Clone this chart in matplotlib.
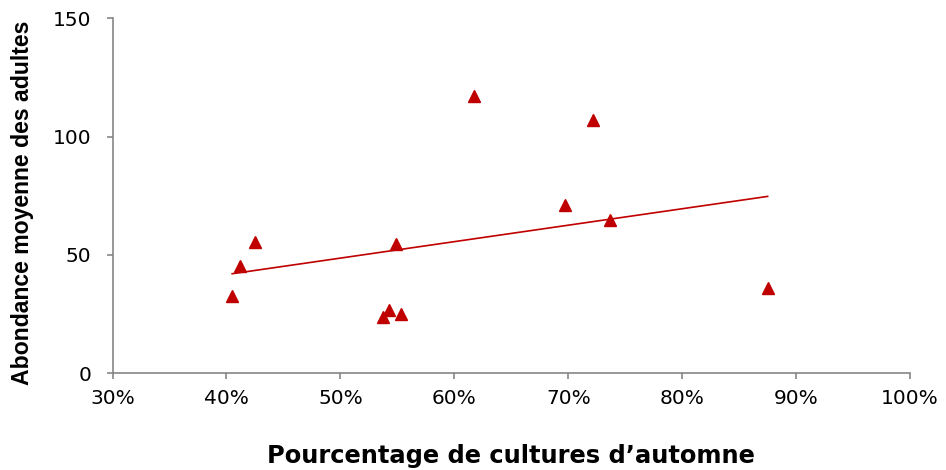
import numpy as np
import matplotlib
matplotlib.use("Agg")
import matplotlib.pyplot as plt
from matplotlib.ticker import FuncFormatter

# Data (fraction of autumn crops, mean adult abundance)
pct_autumn = [0.405, 0.412, 0.425, 0.6175, 0.537, 0.543, 0.549, 0.553, 0.697, 0.722, 0.737, 0.875]
abundance = [32.5, 45.2, 55.3, 117, 24, 26.6, 54.5, 25, 71, 107, 64.6, 36]
x_ticks = [0.3, 0.4, 0.5, 0.6, 0.7, 0.8, 0.9, 1.0]
y_ticks = [0, 50, 100, 150]

red = "#C00000"
grey = "#868686"

plt.rcParams['font.family'] = ['DejaVu Sans']

fig = plt.figure(figsize=(9.46, 4.70), dpi=100)
ax = fig.add_axes([0.119, 0.2057, 0.843, 0.7554])

x = np.array(pct_autumn)
y = np.array(abundance)
ax.plot(x, y, linestyle='none', marker='^', markersize=9, color=red, zorder=3)

slope, intercept = np.polyfit(x, y, 1)
xl = np.array([x.min(), x.max()])
ax.plot(xl, slope * xl + intercept, color=red, linewidth=1.2, zorder=2)

ax.set_xlim(0.3, 1.0)
ax.set_ylim(0, 150)
ax.set_xticks(x_ticks)
ax.set_yticks(y_ticks)
ax.xaxis.set_major_formatter(FuncFormatter(lambda v, p: f"{v*100:.0f}%"))

for s in ['top', 'right']:
    ax.spines[s].set_visible(False)
for s in ['left', 'bottom']:
    ax.spines[s].set_color(grey)
    ax.spines[s].set_linewidth(1.2)
ax.tick_params(axis='both', direction='out', length=4.5, width=1.2, color=grey,
               labelsize=14.5, labelcolor='black')
ax.tick_params(axis='x', pad=7)
ax.tick_params(axis='y', pad=11)

ax.set_xlabel("Pourcentage de cultures d\u2019automne", fontsize=17.4, fontweight='bold')
ax.xaxis.set_label_coords(0.5, -0.198)
ax.set_ylabel("Abondance moyenne des adultes", fontsize=16.6, fontweight='bold',
              family=['Liberation Sans', 'DejaVu Sans'])
ax.yaxis.set_label_coords(-0.0987, 0.48)

fig.savefig("out.png", dpi=100)
